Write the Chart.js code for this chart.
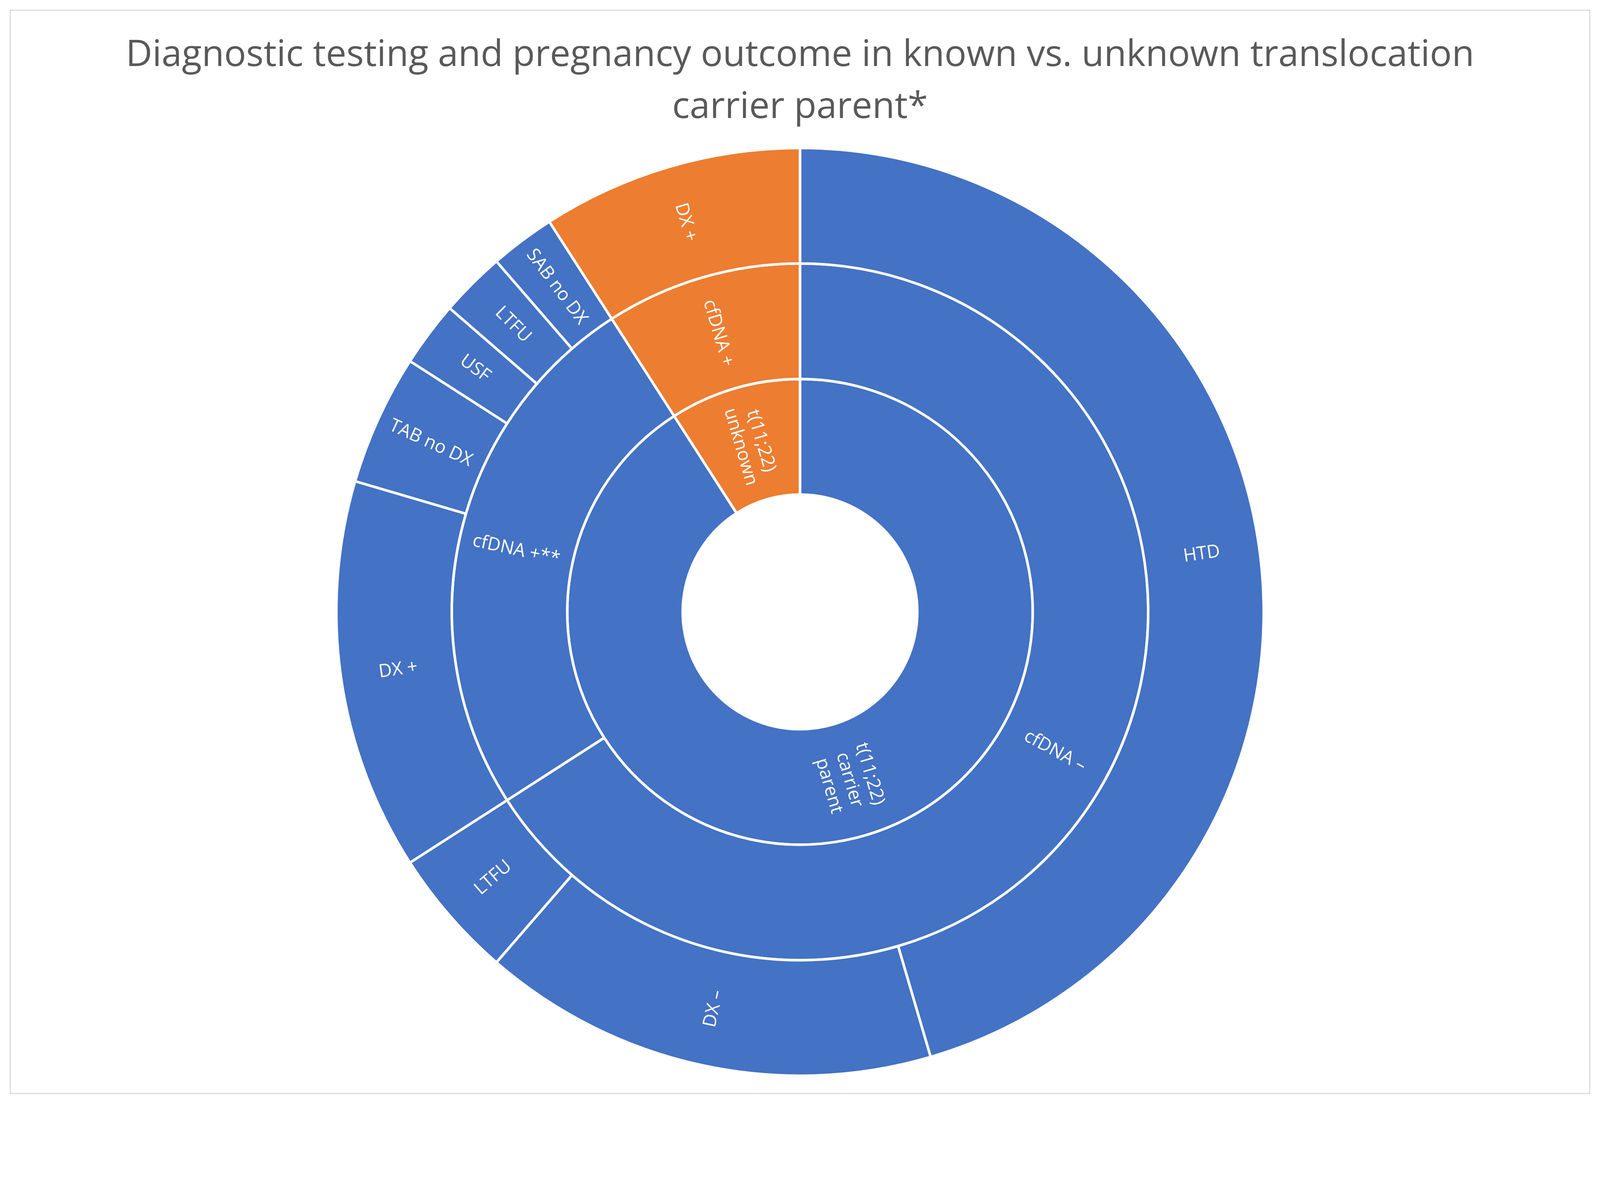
<!DOCTYPE html>
<html><head><meta charset="utf-8">
<script src="https://cdn.jsdelivr.net/npm/chart.js@4"></script>
<style>html,body{margin:0;padding:0;background:#fff;overflow:hidden}#wrap{width:100vw;height:100vh;position:relative}</style>
</head><body><div id="wrap"><canvas id="c"></canvas></div>
<script>
const TITLE = ['Diagnostic testing and pregnancy outcome in known vs. unknown translocation', 'carrier parent*'];
const innerLabels = ['t(11;22)\ncarrier\nparent', 't(11;22)\nunknown'];
const innerValues = [40, 4];
const middleLabels = ['cfDNA –', 'cfDNA +**', 'cfDNA +'];
const middleValues = [29, 11, 4];
const outerLabels = ['HTD', 'DX –', 'LTFU', 'DX +', 'TAB no DX', 'USF', 'LTFU', 'SAB no DX', 'DX +'];
const outerValues = [20, 7, 2, 6, 2, 1, 1, 1, 4];
const BLUE = '#4472C4', ORANGE = '#ED7D31';
const W0 = 4374, H0 = 3017;
const S = () => Math.min(window.innerWidth / W0, window.innerHeight / H0);

const labelPlugin = {
  id: 'arcLabels',
  afterDatasetsDraw(chart) {
    const s = S();
    const ctx = chart.ctx;
    ctx.save();
    ctx.fillStyle = '#fff';
    ctx.font = (50 * s) + 'px "Open Sans", sans-serif';
    ctx.textAlign = 'center'; ctx.textBaseline = 'middle';
    chart.data.datasets.forEach((ds, di) => {
      chart.getDatasetMeta(di).data.forEach((arc, i) => {
        const mid = (arc.startAngle + arc.endAngle) / 2;
        const r = (arc.innerRadius + arc.outerRadius) / 2;
        const x = arc.x + Math.cos(mid) * r, y = arc.y + Math.sin(mid) * r;
        let rot = mid;
        if (Math.cos(mid) < 0) rot += Math.PI;
        ctx.save(); ctx.translate(x, y); ctx.rotate(rot);
        const lines = ds.labels[i].split('\n');
        const lh = 58 * s;
        lines.forEach((l, k) => ctx.fillText(l, 0, (k - (lines.length - 1) / 2) * lh));
        ctx.restore();
      });
    });
    ctx.restore();
  }
};
const framePlugin = {
  id: 'frame',
  beforeDraw(chart) {
    const s = S();
    const ctx = chart.ctx;
    ctx.save();
    ctx.fillStyle = '#fff'; ctx.fillRect(0, 0, chart.width, chart.height);
    ctx.strokeStyle = '#d9d9d9'; ctx.lineWidth = 3 * s;
    ctx.strokeRect(28 * s, 28 * s, 4318 * s, 2960 * s);
    ctx.fillStyle = '#595959';
    ctx.font = (100 * s) + 'px "Open Sans", sans-serif';
    ctx.textAlign = 'center'; ctx.textBaseline = 'middle';
    ctx.fillText(TITLE[0], chart.width / 2, 152 * s);
    ctx.fillText(TITLE[1], chart.width / 2, 294 * s);
    ctx.restore();
  }
};
const s0 = S();
new Chart(document.getElementById('c'), {
  type: 'doughnut',
  data: {
    datasets: [
      { labels: outerLabels, data: outerValues, backgroundColor: outerValues.map((v, i) => i === 8 ? ORANGE : BLUE), borderColor: '#fff', borderWidth: 7 * s0 },
      { labels: middleLabels, data: middleValues, backgroundColor: [BLUE, BLUE, ORANGE], borderColor: '#fff', borderWidth: 7 * s0 },
      { labels: innerLabels, data: innerValues, backgroundColor: [BLUE, ORANGE], borderColor: '#fff', borderWidth: 7 * s0 }
    ]
  },
  options: {
    responsive: true, maintainAspectRatio: false, animation: false,
    cutout: '25.3%',
    layout: { padding: { top: 401 * s0, bottom: window.innerHeight - 2943 * s0, left: 0, right: 0 } },
    plugins: { legend: { display: false }, tooltip: { enabled: false }, title: { display: false } }
  },
  plugins: [framePlugin, labelPlugin]
});
</script></body></html>
